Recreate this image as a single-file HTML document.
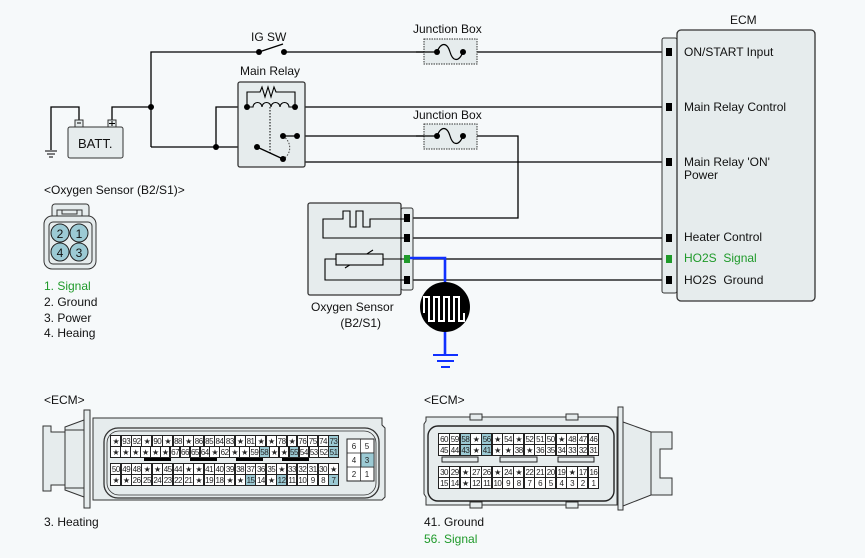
<!DOCTYPE html>
<html><head><meta charset="utf-8"><style>
body{margin:0;background:#f6f9fa}
#w{position:relative;width:865px;height:558px;overflow:hidden;background:#f6f9fa;font-family:"Liberation Sans",sans-serif}
svg{position:absolute;left:0;top:0}
.t{position:absolute;font-size:12px;color:#111;white-space:nowrap;line-height:14px}
.g{color:#1f9a2a}
.r{position:absolute;display:flex;height:12px}
.r i{flex:1;font-style:normal;font-size:8px;line-height:12px;text-align:center;border:0.6px solid #222;margin-left:-0.6px;background:#fff;color:#222;letter-spacing:-0.5px}
.r i.h{background:#9ccad4}
</style></head><body><div id="w">
<svg width="865" height="558" viewBox="0 0 865 558">
<g fill="none" stroke="#000" stroke-width="1.3">
<!-- top wire -->
<path d="M151,147 V52 H259 M284,52 H424 M477,52 H666"/>
<path d="M259,52 L283,44"/>
<!-- battery wires -->
<path d="M151,107 H112 V120 M79,120 V107 H51 V150"/>
<path d="M151,147 H257 M216,147 V107 H247"/>
<path d="M295,107 H666 M297,136 H424 M477,136 H518 V218 H410 M297,136 V162 H666"/>
<path d="M413,238 H666 M413,259 H666 M413,280 H666"/>
</g>
<!-- ground -->
<g stroke="#000" stroke-width="1"><path d="M45,151 H57 M47,154 H55 M49,157 H53"/></g>
<!-- battery -->
<rect x="68" y="127" width="55" height="31" rx="2" fill="#e6eced" stroke="#333"/>
<rect x="75" y="120" width="8" height="7" fill="#e6eced" stroke="#333"/>
<rect x="108" y="120" width="8" height="7" fill="#e6eced" stroke="#333"/>
<path d="M77,123 H81 M109,123.5 H115 M112,121 V126" stroke="#000" stroke-width="1"/>
<text x="78" y="148" font-size="13" font-family="Liberation Sans" fill="#111">BATT.</text>
<!-- junction boxes -->
<rect x="424" y="39" width="53" height="25" fill="#e6eced" stroke="#333" stroke-dasharray="1.5,1"/>
<rect x="424" y="124" width="53" height="25" fill="#e6eced" stroke="#333" stroke-dasharray="1.5,1"/>
<path d="M416,52 H437 C441,42 447,42 450,52 C453,62 459,62 463,52 M416,136 H437 C441,126 447,126 450,136 C453,146 459,146 463,136" fill="none" stroke="#000" stroke-width="1.2"/>
<g fill="#000"><circle cx="437" cy="52" r="3"/><circle cx="463" cy="52" r="3"/><circle cx="437" cy="136" r="3"/><circle cx="463" cy="136" r="3"/>
<circle cx="259" cy="52" r="3"/><circle cx="284" cy="52" r="3"/><circle cx="151" cy="107" r="3"/><circle cx="216" cy="147" r="3"/></g>
<!-- main relay -->
<rect x="238" y="82" width="67" height="85" rx="2" fill="#e6eced" stroke="#333" stroke-width="1.3"/>
<path d="M247,107 V92 H260 l2,-5 l3,10 l3,-10 l3,10 l3,-10 l2,5 H295 V107" fill="none" stroke="#000" stroke-width="1.1"/>
<path d="M247,107 H253 a4.5,4.5 0 0 1 9,0 a4.5,4.5 0 0 1 9,0 a4.5,4.5 0 0 1 9,0 a4.5,4.5 0 0 1 9,0 H295" fill="none" stroke="#000" stroke-width="1.1"/>
<path d="M270,107 V155" stroke="#000" stroke-dasharray="1.5,1.5"/>
<path d="M283,136 C292,142 292,154 283,159" fill="none" stroke="#444" stroke-dasharray="1.5,1.5"/>
<path d="M257,147 L283,159 M283,136 H297" stroke="#000" stroke-width="1.3"/>
<g fill="#000"><circle cx="247" cy="107" r="3"/><circle cx="295" cy="107" r="3"/><circle cx="257" cy="147" r="3"/><circle cx="283" cy="159" r="3"/><circle cx="283" cy="136" r="3"/><circle cx="297" cy="136" r="3"/></g>
<!-- ECM -->
<rect x="662" y="38" width="15" height="255" rx="2" fill="#e6eced" stroke="#333"/>
<rect x="677" y="30" width="138" height="271" rx="4" fill="#e6eced" stroke="#333" stroke-width="1.3"/>
<g fill="#000"><rect x="666" y="48" width="6" height="8"/><rect x="666" y="103" width="6" height="8"/><rect x="666" y="158" width="6" height="8"/><rect x="666" y="234" width="6" height="8"/><rect x="666" y="276" width="6" height="8"/></g>
<rect x="666" y="255" width="6" height="8" fill="#1f9a2a"/>
<!-- sensor -->
<rect x="401" y="208" width="12" height="82" rx="2" fill="#e6eced" stroke="#333"/>
<rect x="308" y="203" width="93" height="92" rx="2" fill="#e6eced" stroke="#333" stroke-width="1.3"/>
<path d="M405,219 H370 V227 H363 V211 H356 V227 H350 V211 H343 V219 H323 V238 H405" fill="none" stroke="#000" stroke-width="1.1"/>
<path d="M405,259 H383 M336,259 H325 V280 H405 M345,268 L373,250" fill="none" stroke="#000" stroke-width="1.1"/>
<rect x="336" y="254" width="47" height="11" fill="#e6eced" stroke="#000" stroke-width="1.1"/>
<g fill="#000"><rect x="404" y="214" width="6" height="8"/><rect x="404" y="234" width="6" height="8"/><rect x="404" y="276" width="6" height="8"/></g>
<rect x="404" y="255" width="6" height="8" fill="#1f9a2a"/>
<path d="M410,258 H445 V355" fill="none" stroke="#1030ff" stroke-width="2.6"/>
<path d="M433,355 H458 M437,361 H454 M441,367 H450" stroke="#1030ff" stroke-width="2"/>
<circle cx="445" cy="307" r="25" fill="#000"/>
<path d="M424,313 V297 H429 V321 H434 V297 H439 V321 H444 V297 H449 V321 H454 V297 H459 V321 H464 V313" fill="none" stroke="#fff" stroke-width="2"/>
<!-- connector B2/S1 -->
<rect x="52" y="204" width="37" height="14" rx="3" fill="#e6eced" stroke="#333"/>
<path d="M57,217 V210 H82 V217 M62,210 V214 H77 V210" fill="none" stroke="#333"/>
<rect x="44" y="216" width="52" height="53" rx="8" fill="#e6eced" stroke="#333"/>
<rect x="49" y="222" width="43" height="42" rx="4" fill="#e6eced" stroke="#333"/>
<g fill="#9ccad4" stroke="#222"><circle cx="60" cy="233" r="9"/><circle cx="79" cy="233" r="9"/><circle cx="60" cy="252" r="9"/><circle cx="79" cy="252" r="9"/></g>
<g font-size="12" font-family="Liberation Sans" fill="#111" text-anchor="middle"><text x="60" y="238">2</text><text x="79" y="238">1</text><text x="60" y="257">4</text><text x="79" y="257">3</text></g>
<!-- ECM left connector -->
<path d="M43,426 H51 V432 H65 V427 L84,420 V497 L65,490 V485 H51 V491 H43 Z" fill="#e6eced" stroke="#333"/>
<path d="M65,432 V485 M65,430 H84 M65,488 H84" stroke="#333" fill="none"/>
<rect x="84" y="410" width="6" height="98" fill="#e6eced" stroke="#333"/>
<path d="M93,418 H382 V425 L385,428 V497 L382,500 H93 Z" fill="#e6eced" stroke="#333"/>
<rect x="104" y="428" width="275" height="70" rx="14" fill="none" stroke="#333" stroke-width="1.3"/>
<rect x="107" y="431" width="269" height="64" rx="12" fill="none" stroke="#333" stroke-width="0.8"/>
<g fill="#000"><rect x="144" y="457" width="27" height="4"/><rect x="190" y="457" width="27" height="4"/><rect x="236" y="457" width="27" height="4"/><rect x="282" y="457" width="27" height="4"/></g>
<!-- ECM right connector -->
<path d="M426,417 H617 V505 H426 V497 L424,494 V424 L426,421 Z" fill="#e6eced" stroke="#333"/>
<rect x="470" y="414" width="12" height="6" fill="#e6eced" stroke="#333"/><rect x="566" y="414" width="12" height="6" fill="#e6eced" stroke="#333"/>
<rect x="470" y="502" width="12" height="6" fill="#e6eced" stroke="#333"/><rect x="566" y="502" width="12" height="6" fill="#e6eced" stroke="#333"/>
<rect x="428" y="426" width="186" height="75" rx="10" fill="none" stroke="#222" stroke-width="1.4"/>
<rect x="618" y="407" width="5" height="103" fill="#e6eced" stroke="#333"/>
<path d="M623,422 L651,432 H660 V432 H672 V449 H660 V478 H672 V495 H651 L623,506 Z" fill="#e6eced" stroke="#333"/>
<path d="M651,432 V495" stroke="#333"/>
<g fill="#e6eced" stroke="#222"><rect x="442" y="457" width="36" height="5"/><rect x="500" y="457" width="37" height="5"/><rect x="558" y="457" width="36" height="5"/></g>
<!-- small block -->
<rect x="347" y="439" width="27" height="42" fill="#fff" stroke="#222"/>
<path d="M360.5,439 V481 M347,453 H374 M347,467 H374" stroke="#222" stroke-width="0.7"/>
<rect x="361" y="453" width="13" height="14" fill="#9ccad4" stroke="#222" stroke-width="0.7"/>
<g font-size="8" font-family="Liberation Sans" fill="#222" text-anchor="middle"><text x="354" y="449">6</text><text x="367" y="449">5</text><text x="354" y="463">4</text><text x="367" y="463">3</text><text x="354" y="477">2</text><text x="367" y="477">1</text></g>
</svg>
<div class="t" style="left:251px;top:30px">IG SW</div>
<div class="t" style="left:413px;top:22px">Junction Box</div>
<div class="t" style="left:413px;top:108px">Junction Box</div>
<div class="t" style="left:240px;top:64px">Main Relay</div>
<div class="t" style="left:730px;top:13px">ECM</div>
<div class="t" style="left:684px;top:45px">ON/START Input</div>
<div class="t" style="left:684px;top:100px">Main Relay Control</div>
<div class="t" style="left:684px;top:156px;line-height:13px">Main Relay 'ON'<br>Power</div>
<div class="t" style="left:684px;top:230px">Heater Control</div>
<div class="t g" style="left:684px;top:251px">HO2S&nbsp; Signal</div>
<div class="t" style="left:684px;top:273px">HO2S&nbsp; Ground</div>
<div class="t" style="left:311px;top:299px;text-align:center;line-height:16px">Oxygen Sensor<br>&nbsp;&nbsp;&nbsp;&nbsp;&nbsp;(B2/S1)</div>
<div class="t" style="left:44px;top:183px">&lt;Oxygen Sensor (B2/S1)&gt;</div>
<div class="t g" style="left:44px;top:279px">1. Signal</div>
<div class="t" style="left:44px;top:295px">2. Ground</div>
<div class="t" style="left:44px;top:311px">3. Power</div>
<div class="t" style="left:44px;top:326px">4. Heaing</div>
<div class="t" style="left:44px;top:393px">&lt;ECM&gt;</div>
<div class="t" style="left:44px;top:515px">3. Heating</div>
<div class="t" style="left:424px;top:393px">&lt;ECM&gt;</div>
<div class="t" style="left:424px;top:515px">41. Ground</div>
<div class="t g" style="left:424px;top:532px">56. Signal</div>
<div class="r" style="left:111px;top:435px;width:228px"><i>★</i><i>93</i><i>92</i><i>★</i><i>90</i><i>★</i><i>88</i><i>★</i><i>86</i><i>85</i><i>84</i><i>83</i><i>★</i><i>81</i><i>★</i><i>★</i><i>78</i><i>★</i><i>76</i><i>75</i><i>74</i><i class="h">73</i></div>
<div class="r" style="left:111px;top:446px;width:228px"><i>★</i><i>★</i><i>★</i><i>★</i><i>★</i><i>★</i><i>67</i><i>66</i><i>65</i><i>64</i><i>★</i><i>62</i><i>★</i><i>★</i><i>59</i><i class="h">58</i><i>★</i><i>★</i><i class="h">55</i><i>54</i><i>53</i><i>52</i><i class="h">51</i></div>
<div class="r" style="left:111px;top:463px;width:228px"><i>50</i><i>49</i><i>48</i><i>★</i><i>★</i><i>45</i><i>44</i><i>★</i><i>★</i><i>41</i><i>40</i><i>39</i><i>38</i><i>37</i><i>36</i><i>35</i><i>★</i><i>33</i><i>32</i><i>31</i><i>30</i><i>★</i></div>
<div class="r" style="left:111px;top:474px;width:228px"><i>★</i><i>★</i><i>26</i><i>25</i><i>24</i><i>23</i><i>22</i><i>21</i><i>★</i><i>19</i><i>18</i><i>★</i><i>★</i><i class="h">15</i><i>14</i><i>★</i><i class="h">12</i><i>11</i><i>10</i><i>9</i><i>8</i><i class="h">7</i></div>
<div class="r" style="left:439px;top:433px;width:160px"><i>60</i><i>59</i><i class="h">58</i><i>★</i><i class="h">56</i><i>★</i><i>54</i><i>★</i><i>52</i><i>51</i><i>50</i><i>★</i><i>48</i><i>47</i><i>46</i></div>
<div class="r" style="left:439px;top:444px;width:160px"><i>45</i><i>44</i><i class="h">43</i><i>★</i><i class="h">41</i><i>★</i><i>★</i><i>38</i><i>★</i><i>36</i><i>35</i><i>34</i><i>33</i><i>32</i><i>31</i></div>
<div class="r" style="left:439px;top:466px;width:160px"><i>30</i><i>29</i><i>★</i><i>27</i><i>26</i><i>★</i><i>24</i><i>★</i><i>22</i><i>21</i><i>20</i><i>19</i><i>★</i><i>17</i><i>16</i></div>
<div class="r" style="left:439px;top:477px;width:160px"><i>15</i><i>14</i><i>★</i><i>12</i><i>11</i><i>10</i><i>9</i><i>8</i><i>7</i><i>6</i><i>5</i><i>4</i><i>3</i><i>2</i><i>1</i></div>
</div></body></html>
